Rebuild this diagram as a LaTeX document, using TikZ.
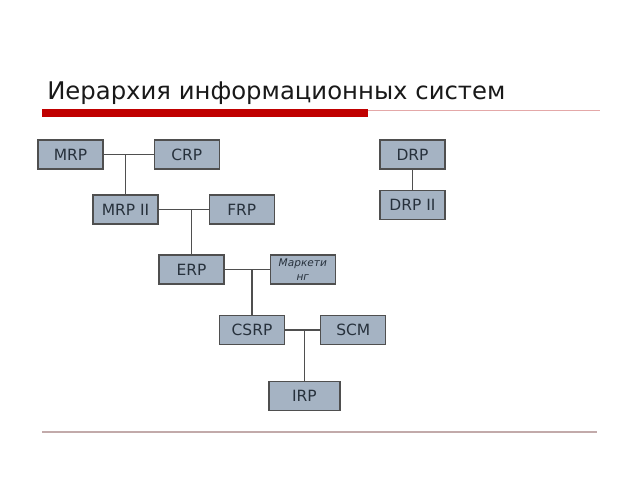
\documentclass[tikz,border=0pt]{standalone}
\usepackage{fontspec}
\setmainfont{DejaVu Sans}
\usetikzlibrary{positioning}

\definecolor{boxfill}{HTML}{A5B3C3}
\definecolor{boxline}{HTML}{4F4F4F}
\definecolor{boxtext}{HTML}{27313C}
\definecolor{barred}{HTML}{C00000}
\definecolor{thinred}{HTML}{E4A8A8}
\definecolor{footline}{HTML}{C2AAAA}

\begin{document}
\begin{tikzpicture}[
    x=0.025cm, y=-0.025cm,
    sys/.style={draw=boxline, fill=boxfill, line width=0.9pt, text=boxtext, align=center,
                minimum width=1.625cm, minimum height=0.725cm, inner sep=1pt,
                font=\fontsize{11}{13}\selectfont},
    link/.style={draw=boxline, line width=0.9pt}
]
\useasboundingbox (0,0) rectangle (640,480);

% title and rules
\node[anchor=base west, inner sep=0pt, text=black!90, font=\fontsize{17.3}{20}\selectfont] (title) at (47,99) {Иерархия информационных систем};
\draw[thinred, line width=0.8pt] (42,110.5) -- (600,110.5);
\fill[barred] (42,109) rectangle (368,117);
\draw[footline, line width=1.1pt] (42,432) -- (597,432);

% systems
\node[sys] (mrp) at (70.5,154.5) {MRP};
\node[sys, right=1.25cm of mrp] (crp) {CRP};
\node[sys] (mrp2) at (125.5,209.5) {MRP II};
\node[sys, right=1.25cm of mrp2] (frp) {FRP};
\node[sys] (erp) at (191.5,269.5) {ERP};
\node[sys, right=1.125cm of erp, font=\fontsize{7.5}{9.5}\selectfont\itshape] (mkt) {Маркети\\нг};
\node[sys] (csrp) at (252,330) {CSRP};
\node[sys, right=0.875cm of csrp] (scm) {SCM};
\node[sys, minimum width=1.775cm] (irp) at (304.5,396) {IRP};
\node[sys] (drp) at (412.5,154.5) {DRP};
\node[sys, below=0.5cm of drp] (drp2) {DRP II};

% connectors
\draw[link] (mrp) -- (crp);
\draw[link] (mrp2.north) -- (mrp2.north |- mrp.east);
\draw[link] (mrp2) -- (frp);
\draw[link] (erp.north) -- (erp.north |- mrp2.east);
\draw[link] (erp) -- (mkt);
\draw[link] (csrp.north) -- (csrp.north |- erp.east);
\draw[link] (csrp) -- (scm);
\draw[link] (irp.north) -- (irp.north |- csrp.east);
\draw[link] (drp) -- (drp2);
\end{tikzpicture}
\end{document}
